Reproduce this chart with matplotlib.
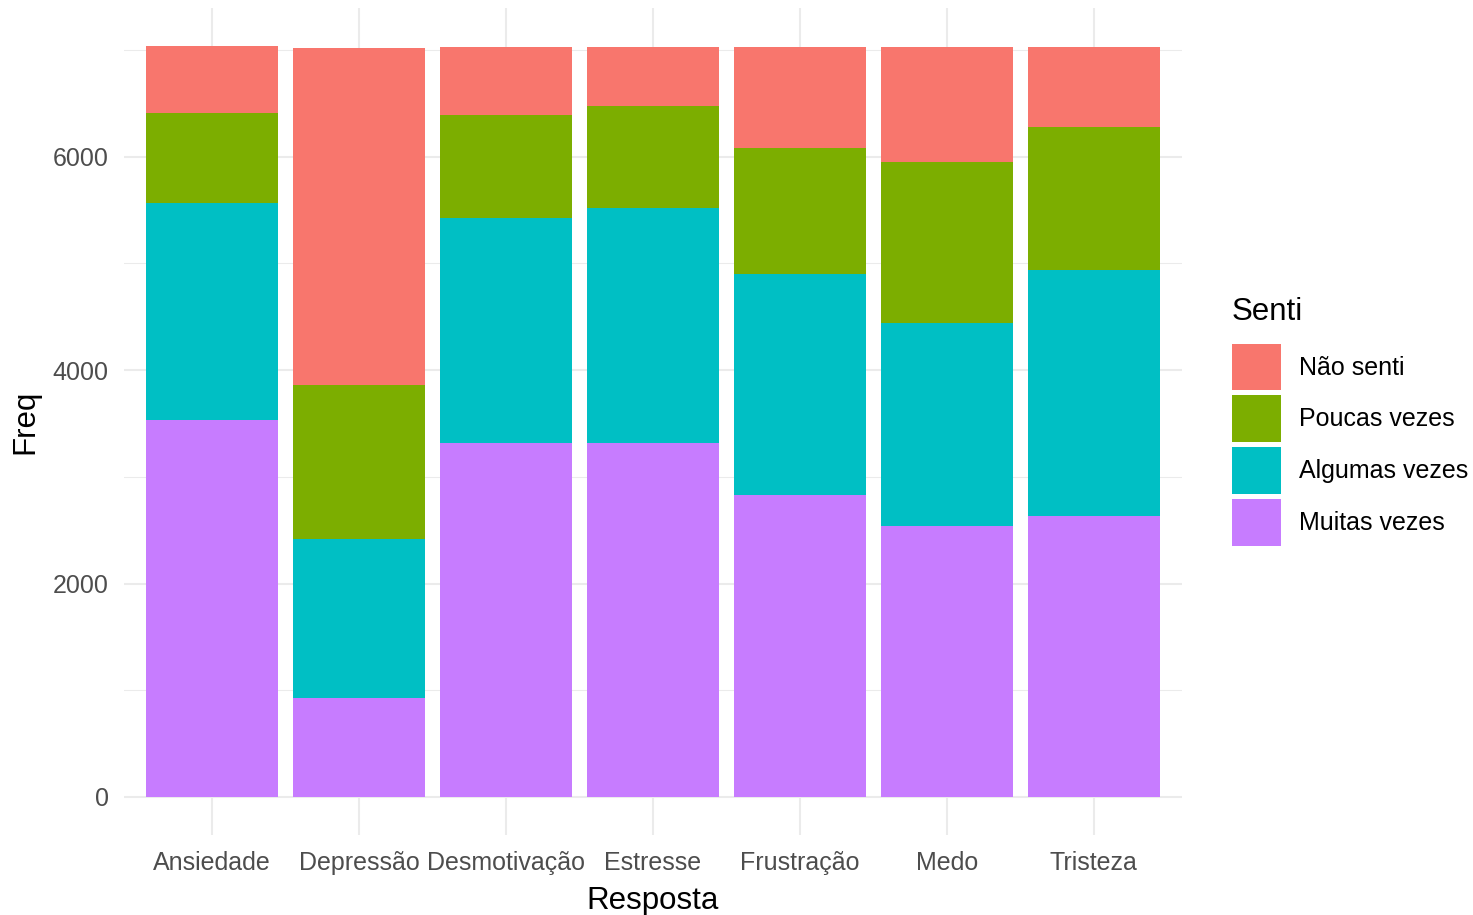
import matplotlib.pyplot as plt
import numpy as np
from matplotlib.patches import Patch

plt.rcParams['font.family'] = ['Liberation Sans', 'DejaVu Sans']

categorias = ["Ansiedade", "Depressão", "Desmotivação", "Estresse", "Frustração", "Medo", "Tristeza"]

# counts per answer
muitas = [3528, 927, 3316, 3316, 2830, 2536, 2633]
algumas = [2040, 1487, 2114, 2199, 2075, 1909, 2303]
poucas = [841, 1442, 958, 957, 1180, 1502, 1339]
nao_senti = [629, 3161, 641, 557, 944, 1082, 754]

niveis = ["Não senti", "Poucas vezes", "Algumas vezes", "Muitas vezes"]
cores = {"Não senti": "#F8766D", "Poucas vezes": "#7CAE00",
         "Algumas vezes": "#00BFC4", "Muitas vezes": "#C77CFF"}

fig = plt.figure(figsize=(14.73, 9.15), dpi=100)
ax = fig.add_axes([124/1473, 1 - 834.5/915, (1182-124)/1473, (834.5-8.4)/915])

x = np.arange(1, len(categorias) + 1)
width = 0.9

# stack from bottom: Muitas, Algumas, Poucas, Nao senti
bottom = np.zeros(len(categorias))
for nome, vals in [("Muitas vezes", muitas), ("Algumas vezes", algumas),
                   ("Poucas vezes", poucas), ("Não senti", nao_senti)]:
    vals = np.asarray(vals, dtype=float)
    ax.bar(x, vals, width, bottom=bottom, color=cores[nome], linewidth=0, zorder=3)
    bottom += vals

ymax = bottom.max()
ax.set_xlim(0.4, len(categorias) + 0.6)
ax.set_ylim(-0.05 * ymax, 1.05 * ymax)

ax.set_yticks([0, 2000, 4000, 6000])
ax.set_yticks([1000, 3000, 5000, 7000], minor=True)
ax.set_xticks(x)
ax.set_xticklabels(categorias)

ax.grid(which='major', color='#EBEBEB', linewidth=1.5, zorder=0)
ax.grid(which='minor', axis='y', color='#EBEBEB', linewidth=0.75, zorder=0)
ax.set_axisbelow(True)
for s in ax.spines.values():
    s.set_visible(False)
ax.tick_params(which='both', length=0)
ax.tick_params(axis='y', labelsize=18, labelcolor='#4D4D4D', pad=11)
ax.tick_params(axis='x', labelsize=18, labelcolor='#4D4D4D', pad=12)

ax.set_xlabel("Resposta", fontsize=22.5, labelpad=8)
ax.set_ylabel("Freq", fontsize=22.5, labelpad=9)

handles = [Patch(facecolor=cores[n], edgecolor='none') for n in niveis]
leg = fig.legend(handles, niveis, title="Senti", loc='upper left',
                 bbox_to_anchor=(1232/1473, 1 - 297/915), frameon=False,
                 fontsize=18, title_fontsize=22.5, handlelength=1.95,
                 handleheight=2.5, labelspacing=0.2, handletextpad=0.72,
                 borderpad=0, borderaxespad=0)
leg._legend_box.align = "left"
leg._legend_box.sep = 12

plt.savefig("out.png", dpi=100)
